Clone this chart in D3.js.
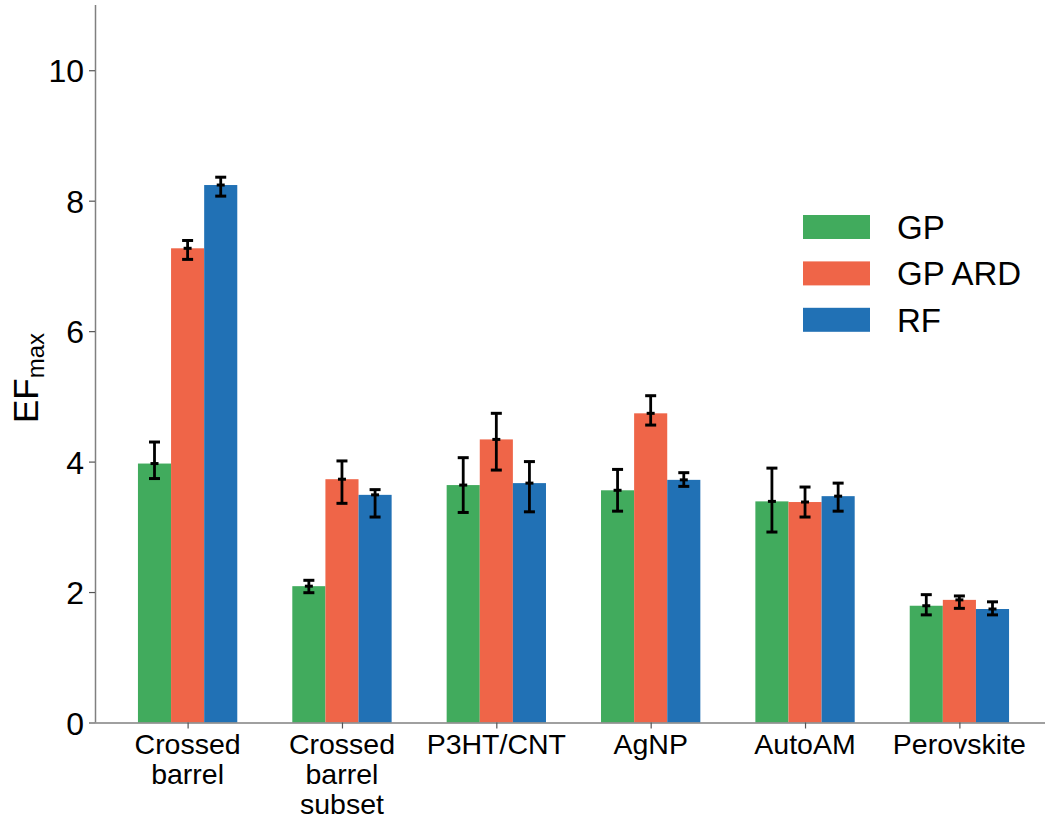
<!DOCTYPE html>
<html>
<head>
<meta charset="utf-8">
<script src="https://cdn.jsdelivr.net/npm/d3@7"></script>
<style>
  html, body { margin: 0; padding: 0; background: #fff; }
  svg { display: block; font-family: "Liberation Sans", Arial, sans-serif; }
</style>
</head>
<body>
<svg id="chart" width="1045" height="820"></svg>
<script>
// Benchmark datasets (x categories); multi-line labels split on "\n"
const categories = ["Crossed\nbarrel", "Crossed\nbarrel\nsubset", "P3HT/CNT", "AgNP", "AutoAM", "Perovskite"];
const seriesNames = ["GP", "GP ARD", "RF"];
const seriesColors = ["#41ab5d", "#ef6548", "#2171b5"];

// EF_max per surrogate model
const gpValues    = [3.97, 2.09, 3.64, 3.56, 3.39, 1.79];
const gpArdValues = [7.27, 3.73, 4.34, 4.74, 3.38, 1.88];
const rfValues    = [8.24, 3.49, 3.67, 3.72, 3.47, 1.74];

// Error bar extents (lower / upper)
const gpLow     = [3.74, 1.99, 3.22, 3.24, 2.92, 1.65];
const gpHigh    = [4.30, 2.18, 4.06, 3.88, 3.90, 1.96];
const gpArdLow  = [7.10, 3.36, 3.87, 4.56, 3.15, 1.75];
const gpArdHigh = [7.39, 4.01, 4.74, 5.01, 3.61, 1.94];
const rfLow     = [8.07, 3.15, 3.23, 3.62, 3.24, 1.65];
const rfHigh    = [8.36, 3.57, 4.00, 3.83, 3.67, 1.85];

const yTicks = [0, 2, 4, 6, 8, 10];

const series = [
  { name: seriesNames[0], color: seriesColors[0], values: gpValues,    low: gpLow,    high: gpHigh },
  { name: seriesNames[1], color: seriesColors[1], values: gpArdValues, low: gpArdLow, high: gpArdHigh },
  { name: seriesNames[2], color: seriesColors[2], values: rfValues,    low: rfLow,    high: rfHigh }
];

const svg = d3.select("#chart");
const plot = { left: 95, right: 1052, top: 5, bottom: 722.5 };

// Linear x scale in category units so the axis extends past the outer groups
const x = d3.scaleLinear().domain([-0.6, categories.length - 1 + 0.6]).range([plot.left, plot.right]);
const y = d3.scaleLinear().domain([0, 11]).range([plot.bottom, plot.top]);
const barWidth = 0.2145;
const offsets = [-barWidth, 0, barWidth];

// Bars
series.forEach((s, si) => {
  svg.append("g").selectAll("rect")
    .data(s.values)
    .join("rect")
    .attr("x", (d, i) => x(i + offsets[si] - barWidth / 2))
    .attr("width", x(barWidth) - x(0))
    .attr("y", d => y(d))
    .attr("height", d => y(0) - y(d))
    .attr("fill", s.color);
});

// Error bars with caps and a centre mark
series.forEach((s, si) => {
  const g = svg.append("g").attr("stroke", "#000").attr("stroke-width", 2.8);
  s.values.forEach((v, i) => {
    const cx = x(i + offsets[si]);
    const lo = y(s.low[i]), hi = y(s.high[i]), mid = y(v);
    g.append("line").attr("x1", cx).attr("x2", cx).attr("y1", lo).attr("y2", hi);
    g.append("line").attr("x1", cx - 5.5).attr("x2", cx + 5.5).attr("y1", lo).attr("y2", lo).attr("stroke-width", 3);
    g.append("line").attr("x1", cx - 5.5).attr("x2", cx + 5.5).attr("y1", hi).attr("y2", hi).attr("stroke-width", 3);
    g.append("line").attr("x1", cx - 4).attr("x2", cx + 4).attr("y1", mid).attr("y2", mid).attr("stroke-width", 3);
  });
});

// Y axis
const yAxis = svg.append("g")
  .attr("transform", `translate(${plot.left},0)`)
  .call(d3.axisLeft(y).tickValues(yTicks).tickSize(6).tickPadding(5).tickFormat(d3.format("d")));
yAxis.select(".domain").attr("stroke", "#808080").attr("stroke-width", 1.5)
  .attr("d", `M0.5,${plot.bottom}V${plot.top}`);
yAxis.selectAll(".tick line").attr("stroke", "#555").attr("stroke-width", 1.2);
yAxis.selectAll(".tick text").attr("font-size", 32).attr("fill", "#000")
  .attr("font-family", "Liberation Sans, Arial, sans-serif").attr("dy", "0.36em");

// X axis
const xAxis = svg.append("g")
  .attr("transform", `translate(0,${plot.bottom})`)
  .call(d3.axisBottom(x).tickValues(d3.range(categories.length)).tickSize(6).tickFormat(""));
xAxis.select(".domain").attr("stroke", "#808080").attr("stroke-width", 1.5)
  .attr("d", `M${plot.left},0.5H${plot.right}`);
xAxis.selectAll(".tick line").attr("stroke", "#555").attr("stroke-width", 1.2);

// Category labels, one tspan per line
const xl = svg.append("g").attr("font-size", 28.5).attr("fill", "#000").attr("text-anchor", "middle");
categories.forEach((c, i) => {
  const t = xl.append("text").attr("x", x(i)).attr("y", 753.5);
  c.split("\n").forEach((line, li) => {
    t.append("tspan").attr("x", x(i)).attr("dy", li === 0 ? 0 : 30).text(line);
  });
});

// Y axis label: EF with subscript "max"
const yl = svg.append("text")
  .attr("transform", "translate(38,378) rotate(-90)")
  .attr("text-anchor", "middle")
  .attr("fill", "#000");
yl.append("tspan").attr("font-size", 35).text("EF");
yl.append("tspan").attr("font-size", 24).attr("dy", 6).text("max");

// Legend
const legend = svg.append("g").attr("transform", "translate(803,215)");
series.forEach((s, i) => {
  const row = legend.append("g").attr("transform", `translate(0,${i * 46.4})`);
  row.append("rect").attr("width", 67).attr("height", 24).attr("fill", s.color);
  row.append("text").attr("x", 94).attr("y", 12).attr("dy", "0.36em")
    .attr("font-size", 33).attr("fill", "#000").text(s.name);
});
</script>
</body>
</html>
